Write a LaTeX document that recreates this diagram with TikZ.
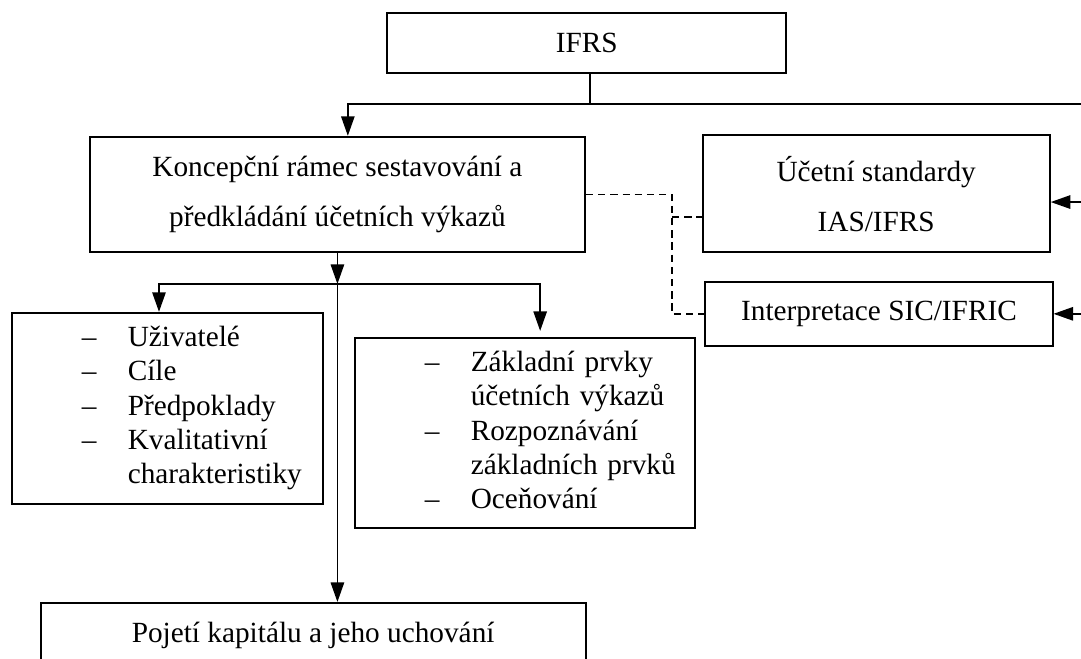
\documentclass[tikz,border=0pt]{standalone}
\usepackage{fontspec}
\setmainfont{Liberation Serif}
\usetikzlibrary{arrows.meta}

\begin{document}
\begin{tikzpicture}[font=\fontsize{12}{14}\selectfont,
    box/.style={rectangle, draw, line width=0.8pt, align=center, inner sep=0pt},
    listbox/.style={rectangle, draw, line width=0.8pt, inner sep=0pt, align=left},
    link/.style={-{Triangle[length=8pt,width=5.5pt]}, line width=0.6pt},
    dashlink/.style={line width=0.7pt, dash pattern=on 3pt off 2pt}]
  \useasboundingbox (0,0) rectangle (15.57,-9.49);

  \node[box, minimum width=5.75cm, minimum height=0.86cm] (ifrs) at (8.45,-0.62) {IFRS};
  \node[box, minimum width=7.13cm, minimum height=1.66cm, font=\fontsize{12}{20.5}\selectfont] (ramec) at (4.86,-2.80) {Koncepční rámec sestavování a\\předkládání účetních výkazů};
  \node[box, minimum width=5.00cm, minimum height=1.68cm, font=\fontsize{12}{20.5}\selectfont] (ucet) at (12.62,-2.79) {Účetní standardy\\IAS/IFRS};
  \node[box, minimum width=5.00cm, minimum height=0.92cm] (interp) at (12.66,-4.52) {Interpretace SIC/IFRIC};
  \node[listbox, text width=4.48cm, minimum height=2.75cm] (uziv) at (2.41,-5.88) {\noindent\begin{tabular}{@{\hspace{1.01cm}}l@{\hspace{0.45cm}}l@{}}
    – & Uživatelé\\
    – & Cíle\\
    – & Předpoklady\\
    – & Kvalitativní\\
      & charakteristiky
  \end{tabular}};
  \node[listbox, text width=4.90cm, minimum height=2.74cm] (prvky) at (7.56,-6.24) {\noindent\begin{tabular}{@{\hspace{1.01cm}}l@{\hspace{0.45cm}}l@{}}
    – & Základní prvky\\
      & účetních výkazů\\
    – & Rozpoznávání\\
      & základních prvků\\
    – & Oceňování
  \end{tabular}};
  \node[box, minimum width=7.85cm, minimum height=0.95cm, anchor=north] (kapital) at (4.51,-8.67) {Pojetí kapitálu a jeho uchování};

  % tree from IFRS
  \coordinate (split) at (8.50,-1.50);
  \coordinate (edge) at (15.65,-1.50);
  \coordinate (edgeA) at (15.65,-2.91);
  \coordinate (edgeB) at (15.65,-4.52);
  \draw[line width=0.6pt] (split |- ifrs.south) -- (split);
  \draw[link] (edge) -| ([xshift=0.15cm]ramec.north);
  \draw[link] (edgeA) -- (edgeA -| ucet.east);
  \draw[link] (edgeB) -- (edgeB -| interp.east);

  % framework parts
  \coordinate (fork) at (4.86,-4.09);
  \draw[link] (ramec.south) -- (fork);
  \draw[link] (fork) -| ([xshift=-0.12cm]uziv.north);
  \draw[link] (fork) -| ([xshift=0.22cm,yshift=0.09cm]prvky.north);
  \draw[link] (fork) -- (fork |- kapital.north);

  % dashed relations
  \coordinate (dsplit) at (9.68,0);
  \coordinate (dbranch) at (9.68,-3.13);
  \draw[dashlink] (ramec.east) -| (dsplit |- interp.west) -- (interp.west);
  \draw[dashlink] (dbranch) -- (dbranch -| ucet.west);
\end{tikzpicture}
\end{document}
